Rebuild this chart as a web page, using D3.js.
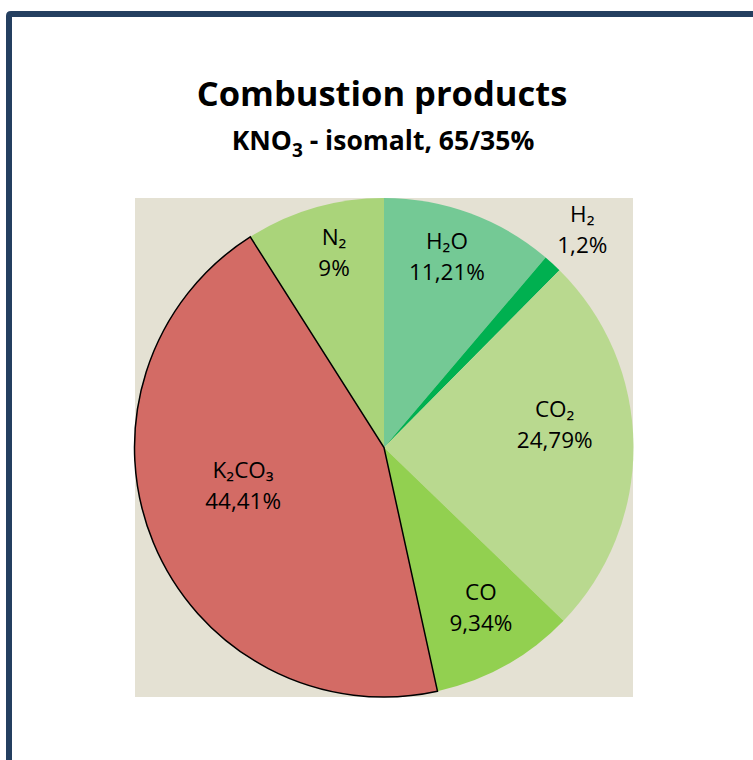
<!DOCTYPE html>
<html>
<head>
<meta charset="utf-8">
<script src="https://cdn.jsdelivr.net/npm/d3@7"></script>
<style>
  html, body { margin: 0; padding: 0; background: #ffffff; }
  svg { display: block; }
</style>
</head>
<body>
<svg id="chart" width="753" height="760"></svg>
<script>
// Combustion products of a KNO3 / isomalt (65/35) propellant, mass fractions in %
const products = ["H₂O", "H₂", "CO₂", "CO", "K₂CO₃", "N₂"];
const shares   = [11.21, 1.2, 24.79, 9.34, 44.41, 9];
const shareLabels = ["11,21%", "1,2%", "24,79%", "9,34%", "44,41%", "9%"];
const fills    = ["#74C995", "#00B050", "#B9D98F", "#92D050", "#D36B65", "#AAD47A"];

const svg = d3.select("#chart");
const font = "'Open Sans', 'Noto Sans', sans-serif";

// frame (only top and left edges fall inside the page)
svg.append("path")
  .attr("d", "M9,760 L9,16 Q9,14 11,14 L753,14")
  .attr("fill", "none")
  .attr("stroke", "#243F60")
  .attr("stroke-width", 6);

// titles
svg.append("text")
  .attr("x", 382).attr("y", 106)
  .attr("text-anchor", "middle")
  .attr("font-family", font).attr("font-weight", "bold")
  .attr("font-size", 34.5)
  .attr("fill", "#000")
  .text("Combustion products");

const sub = svg.append("text")
  .attr("x", 383).attr("y", 150)
  .attr("text-anchor", "middle")
  .attr("font-family", font).attr("font-weight", "bold")
  .attr("font-size", 26.5)
  .attr("fill", "#000");
sub.append("tspan").text("KNO");
sub.append("tspan").attr("font-size", 19).attr("dy", 7).text("3");
sub.append("tspan").attr("dy", -7).text(" - isomalt, 65/35%");

// plot area
const plot = { x: 135, y: 198, w: 498, h: 499 };
svg.append("rect")
  .attr("x", plot.x).attr("y", plot.y)
  .attr("width", plot.w).attr("height", plot.h)
  .attr("fill", "#E4E1D3");

const cx = plot.x + plot.w / 2, cy = plot.y + plot.h / 2;
const r = 249.5;

const data = products.map((p, i) => ({ name: p, value: shares[i], label: shareLabels[i], fill: fills[i] }));
const pie = d3.pie().value(d => d.value).sort(null);
const arcs = pie(data);
const arc = d3.arc().innerRadius(0).outerRadius(r);

const g = svg.append("g").attr("transform", `translate(${cx},${cy})`);

g.selectAll("path.slice")
  .data(arcs)
  .join("path")
  .attr("class", "slice")
  .attr("d", arc)
  .attr("fill", d => d.data.fill);

// the potassium carbonate slice carries a black outline, drawn last so it stays on top
g.selectAll("path.outlined")
  .data(arcs.filter(d => d.data.name === "K₂CO₃"))
  .join("path")
  .attr("class", "outlined")
  .attr("d", arc)
  .attr("fill", d => d.data.fill)
  .attr("stroke", "#000")
  .attr("stroke-width", 1.5);

// label placement: turn from the slice bisector (degrees) and distance as a fraction of the radius
const labelPlace = {
  "H₂O":   { turn: -1.9, dist: 0.804 },
  "H₂":    { turn: -0.2, dist: 1.18 },
  "CO₂":   { turn: -6.8, dist: 0.69 },
  "CO":    { turn: -2.0, dist: 0.75 },
  "K₂CO₃": { turn: 7.2,  dist: 0.585 },
  "N₂":    { turn: 1.8,  dist: 0.805 }
};

const labels = g.selectAll("text.lbl")
  .data(arcs)
  .join("text")
  .attr("class", "lbl")
  .attr("text-anchor", "middle")
  .attr("font-family", font)
  .attr("font-size", 22.5)
  .attr("fill", "#000")
  .attr("transform", d => {
    const p = labelPlace[d.data.name];
    const a = (d.startAngle + d.endAngle) / 2 + p.turn * Math.PI / 180;
    const k = r * p.dist;
    return `translate(${k * Math.sin(a)},${-k * Math.cos(a)})`;
  });
labels.append("tspan").attr("x", 0).attr("y", -8).text(d => d.data.name);
labels.append("tspan").attr("x", 0).attr("y", 23).text(d => d.data.label);
</script>
</body>
</html>
